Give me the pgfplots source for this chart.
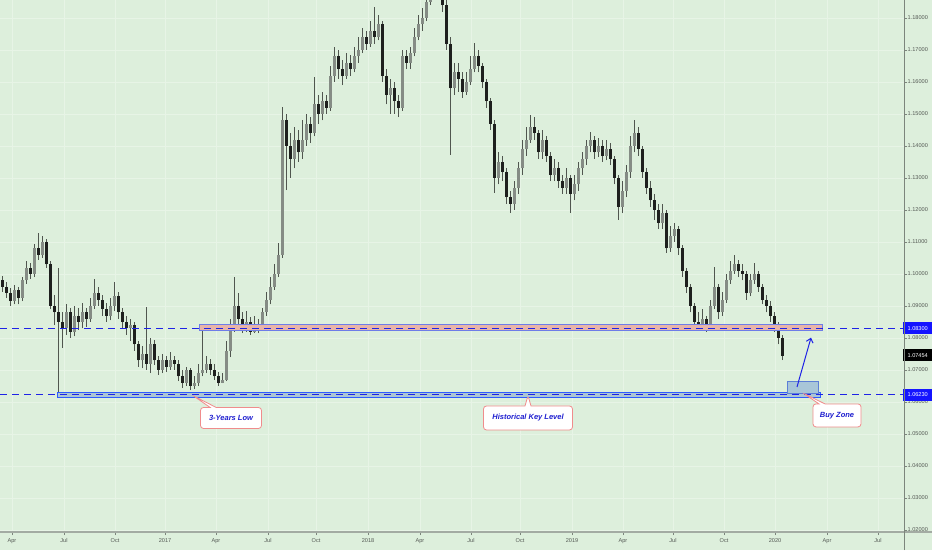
\documentclass[border=0pt]{standalone}
\usepackage{pgfplots}
\pgfplotsset{compat=1.18}
\usepackage{pgfplotstable}
\usepackage{fontspec}
\setmainfont{Liberation Sans}
\usetikzlibrary{shapes.callouts,arrows.meta}
\definecolor{bgc}{HTML}{DDEFDC}
\definecolor{gridc}{HTML}{E7F4E6}
\definecolor{wick}{HTML}{50564F}
\definecolor{upc}{HTML}{858C85}
\definecolor{dnc}{HTML}{1E201E}
\definecolor{lineblue}{HTML}{1E22E6}
\definecolor{lblblue}{HTML}{1414FF}
\definecolor{txtblue}{HTML}{1F1FD0}
\definecolor{callred}{HTML}{F08C8C}
\definecolor{axgray}{HTML}{7C857C}
\definecolor{sepgray}{HTML}{A3ABA3}
\definecolor{ticktxt}{HTML}{555A55}
\definecolor{upbandline}{HTML}{6E7DE8}
\definecolor{upbandfill}{HTML}{E8B4A8}
\definecolor{lobandline}{HTML}{2E5BFF}
\definecolor{lobandfill}{HTML}{ACC6D4}
\definecolor{buyline}{HTML}{5C7FD6}
\definecolor{buyfill}{HTML}{A8C6D8}
\pgfplotstableread{
x o h l c
2 1.0980 1.0995 1.0945 1.0960
6 1.0960 1.0975 1.0925 1.0940
10 1.0940 1.0955 1.0900 1.0915
14 1.0915 1.0965 1.0905 1.0950
18 1.0950 1.0960 1.0905 1.0925
22 1.0925 1.0990 1.0915 1.0980
26 1.0980 1.1040 1.0970 1.1020
30 1.1020 1.1035 1.0985 1.1000
34 1.1000 1.1095 1.0990 1.1080
38 1.1080 1.1128 1.1045 1.1060
42 1.1060 1.1120 1.1050 1.1100
46 1.1100 1.1110 1.1020 1.1030
50 1.1030 1.1040 1.0890 1.0900
54 1.0900 1.0935 1.0840 1.0880
58 1.0880 1.1019 1.0623 1.0850
62 1.0850 1.0880 1.0770 1.0830
66 1.0830 1.0905 1.0810 1.0880
70 1.0880 1.0895 1.0800 1.0820
74 1.0820 1.0900 1.0805 1.0870
78 1.0870 1.0895 1.0825 1.0850
82 1.0850 1.0910 1.0830 1.0880
86 1.0880 1.0895 1.0835 1.0860
90 1.0860 1.0925 1.0850 1.0900
94 1.0900 1.0984 1.0890 1.0940
98 1.0940 1.0960 1.0900 1.0920
102 1.0920 1.0935 1.0870 1.0890
106 1.0890 1.0910 1.0850 1.0870
110 1.0870 1.0925 1.0855 1.0900
114 1.0900 1.0975 1.0885 1.0930
118 1.0930 1.0945 1.0860 1.0880
122 1.0880 1.0895 1.0830 1.0850
126 1.0850 1.0870 1.0810 1.0830
130 1.0830 1.0860 1.0790 1.0840
134 1.0840 1.0850 1.0760 1.0780
138 1.0780 1.0790 1.0710 1.0730
142 1.0730 1.0775 1.0705 1.0750
146 1.0750 1.0897 1.0700 1.0720
150 1.0720 1.0800 1.0690 1.0780
154 1.0780 1.0795 1.0715 1.0730
158 1.0730 1.0745 1.0685 1.0700
162 1.0700 1.0750 1.0690 1.0730
166 1.0730 1.0745 1.0695 1.0710
170 1.0710 1.0755 1.0700 1.0730
174 1.0730 1.0745 1.0700 1.0720
178 1.0720 1.0730 1.0665 1.0680
182 1.0680 1.0700 1.0645 1.0660
186 1.0660 1.0710 1.0650 1.0700
190 1.0700 1.0705 1.0637 1.0650
194 1.0650 1.0680 1.0640 1.0660
198 1.0660 1.0720 1.0650 1.0690
202 1.0690 1.0830 1.0680 1.0700
206 1.0700 1.0745 1.0690 1.0720
210 1.0720 1.0735 1.0685 1.0700
214 1.0700 1.0720 1.0670 1.0680
218 1.0680 1.0695 1.0650 1.0660
222 1.0660 1.0690 1.0659 1.0670
226 1.0670 1.0790 1.0665 1.0760
230 1.0760 1.0860 1.0740 1.0830
234 1.0830 1.0991 1.0820 1.0900
238 1.0900 1.0940 1.0840 1.0860
242 1.0860 1.0880 1.0815 1.0830
246 1.0830 1.0885 1.0820 1.0850
250 1.0850 1.0865 1.0810 1.0820
254 1.0820 1.0870 1.0815 1.0840
258 1.0840 1.0860 1.0815 1.0830
262 1.0830 1.0895 1.0825 1.0880
266 1.0880 1.0945 1.0870 1.0920
270 1.0920 1.0990 1.0905 1.0960
274 1.0960 1.1030 1.0950 1.1000
278 1.1000 1.1097 1.0990 1.1060
282 1.1060 1.1522 1.1050 1.1480
286 1.1480 1.1500 1.1262 1.1400
290 1.1400 1.1440 1.1300 1.1360
294 1.1360 1.1460 1.1330 1.1420
298 1.1420 1.1450 1.1350 1.1380
302 1.1380 1.1480 1.1360 1.1420
306 1.1420 1.1500 1.1400 1.1470
310 1.1470 1.1490 1.1410 1.1440
314 1.1440 1.1616 1.1430 1.1530
318 1.1530 1.1560 1.1470 1.1500
322 1.1500 1.1570 1.1480 1.1540
326 1.1540 1.1560 1.1500 1.1520
330 1.1520 1.1650 1.1510 1.1620
334 1.1620 1.1709 1.1600 1.1680
338 1.1680 1.1700 1.1610 1.1640
342 1.1640 1.1670 1.1590 1.1620
346 1.1620 1.1690 1.1610 1.1660
350 1.1660 1.1685 1.1620 1.1640
354 1.1640 1.1710 1.1630 1.1680
358 1.1680 1.1740 1.1660 1.1700
362 1.1700 1.1770 1.1690 1.1740
366 1.1740 1.1760 1.1700 1.1720
370 1.1720 1.1790 1.1710 1.1760
374 1.1760 1.1834 1.1720 1.1740
378 1.1740 1.1810 1.1730 1.1780
382 1.1780 1.1790 1.1600 1.1620
386 1.1620 1.1640 1.1530 1.1560
390 1.1560 1.1610 1.1500 1.1580
394 1.1580 1.1600 1.1500 1.1540
398 1.1540 1.1560 1.1490 1.1520
402 1.1520 1.1700 1.1510 1.1680
406 1.1680 1.1700 1.1640 1.1660
410 1.1660 1.1710 1.1640 1.1690
414 1.1690 1.1770 1.1680 1.1740
418 1.1740 1.1810 1.1730 1.1780
422 1.1780 1.1830 1.1760 1.1800
426 1.1800 1.1880 1.1790 1.1850
430 1.1850 1.1920 1.1840 1.1880
434 1.1880 1.1970 1.1870 1.1930
438 1.1930 1.2000 1.1900 1.1950
442 1.1950 1.1980 1.1820 1.1840
446 1.1840 1.1860 1.1700 1.1720
450 1.1720 1.1740 1.1372 1.1580
454 1.1580 1.1660 1.1560 1.1630
458 1.1630 1.1660 1.1570 1.1610
462 1.1610 1.1630 1.1550 1.1570
466 1.1570 1.1630 1.1560 1.1600
470 1.1600 1.1680 1.1590 1.1640
474 1.1640 1.1722 1.1630 1.1680
478 1.1680 1.1700 1.1630 1.1650
482 1.1650 1.1660 1.1580 1.1600
486 1.1600 1.1610 1.1520 1.1540
490 1.1540 1.1550 1.1450 1.1470
494 1.1470 1.1480 1.1253 1.1300
498 1.1300 1.1380 1.1280 1.1350
502 1.1350 1.1370 1.1290 1.1320
506 1.1320 1.1330 1.1220 1.1240
510 1.1240 1.1260 1.1191 1.1220
514 1.1220 1.1290 1.1200 1.1270
518 1.1270 1.1350 1.1250 1.1330
522 1.1330 1.1420 1.1310 1.1390
526 1.1390 1.1460 1.1370 1.1420
530 1.1420 1.1497 1.1410 1.1460
534 1.1460 1.1490 1.1420 1.1440
538 1.1440 1.1450 1.1360 1.1380
542 1.1380 1.1450 1.1360 1.1420
546 1.1420 1.1430 1.1350 1.1370
550 1.1370 1.1380 1.1290 1.1310
554 1.1310 1.1360 1.1290 1.1330
558 1.1330 1.1350 1.1270 1.1290
562 1.1290 1.1310 1.1250 1.1270
566 1.1270 1.1330 1.1250 1.1300
570 1.1300 1.1310 1.1191 1.1250
574 1.1250 1.1310 1.1230 1.1280
578 1.1280 1.1350 1.1260 1.1330
582 1.1330 1.1380 1.1310 1.1360
586 1.1360 1.1420 1.1340 1.1400
590 1.1400 1.1444 1.1380 1.1420
594 1.1420 1.1430 1.1360 1.1380
598 1.1380 1.1425 1.1365 1.1400
602 1.1400 1.1420 1.1350 1.1370
606 1.1370 1.1420 1.1355 1.1390
610 1.1390 1.1410 1.1340 1.1360
614 1.1360 1.1370 1.1280 1.1300
618 1.1300 1.1310 1.1169 1.1210
622 1.1210 1.1290 1.1190 1.1260
626 1.1260 1.1340 1.1240 1.1320
630 1.1320 1.1430 1.1300 1.1400
634 1.1400 1.1481 1.1380 1.1440
638 1.1440 1.1460 1.1370 1.1390
642 1.1390 1.1400 1.1300 1.1320
646 1.1320 1.1330 1.1250 1.1270
650 1.1270 1.1290 1.1210 1.1230
654 1.1230 1.1250 1.1170 1.1200
658 1.1200 1.1220 1.1140 1.1160
662 1.1160 1.1220 1.1140 1.1190
666 1.1190 1.1200 1.1066 1.1080
670 1.1080 1.1150 1.1070 1.1120
674 1.1120 1.1160 1.1100 1.1140
678 1.1140 1.1150 1.1060 1.1080
682 1.1080 1.1090 1.0990 1.1010
686 1.1010 1.1020 1.0940 1.0960
690 1.0960 1.0970 1.0880 1.0900
694 1.0900 1.0910 1.0830 1.0850
698 1.0850 1.0880 1.0825 1.0840
702 1.0840 1.0890 1.0830 1.0860
706 1.0860 1.0870 1.0819 1.0830
710 1.0830 1.0920 1.0825 1.0900
714 1.0900 1.1022 1.0890 1.0960
718 1.0960 1.0970 1.0860 1.0880
722 1.0880 1.0945 1.0870 1.0920
726 1.0920 1.1000 1.0910 1.0980
730 1.0980 1.1040 1.0970 1.1010
734 1.1010 1.1059 1.1000 1.1030
738 1.1030 1.1045 1.0990 1.1010
742 1.1010 1.1030 1.0980 1.1000
746 1.1000 1.1010 1.0920 1.0940
750 1.0940 1.1000 1.0930 1.0980
754 1.0980 1.1034 1.0970 1.1000
758 1.1000 1.1010 1.0945 1.0960
762 1.0960 1.0970 1.0905 1.0920
766 1.0920 1.0935 1.0880 1.0900
770 1.0900 1.0915 1.0850 1.0870
774 1.0870 1.0880 1.0820 1.0840
778 1.0840 1.0850 1.0780 1.0800
782 1.0800 1.0810 1.0731 1.0745
}\candles
\begin{document}
\begin{tikzpicture}
\fill[bgc] (0,0) rectangle (932pt,550pt);
\begin{axis}[
  at={(0pt,18pt)}, anchor=south west,
  scale only axis, width=904pt, height=532pt,
  xmin=0, xmax=904, ymin=1.019375, ymax=1.1856,
  clip mode=individual,
  axis x line*=bottom, axis y line*=right,
  axis line style={draw=none},
  xtick={12,64,115,165,216,268,316,368,420,471,520,572,623,673,724,775,827,878},
  xticklabels={Apr,Jul,Oct,2017,Apr,Jul,Oct,2018,Apr,Jul,Oct,2019,Apr,Jul,Oct,2020,Apr,Jul},
  ytick={1.02,1.03,1.04,1.05,1.06,1.07,1.08,1.09,1.10,1.11,1.12,1.13,1.14,1.15,1.16,1.17,1.18},
  yticklabel pos=right,
  tick align=outside, major tick length=3pt,
  tick style={axgray, line width=0.5pt},
  grid=major, grid style={gridc, line width=0.6pt},
  yticklabel style={font=\fontsize{5.6}{6}\selectfont, text=ticktxt, inner sep=0.5pt, anchor=west},
  xticklabel style={font=\fontsize{5.6}{6}\selectfont, text=ticktxt, inner sep=1pt, yshift=-2pt},
  /pgf/number format/.cd, fixed, fixed zerofill, precision=5, assume math mode=true,
]
% wicks
\addplot[draw=none, mark=none, forget plot,
  error bars/.cd, y dir=plus, y explicit, error mark=none,
  error bar style={draw=wick, solid, line width=1pt}]
  table[x=x, y=l, y error expr=\thisrow{h}-\thisrow{l}] {\candles};
% up bodies
\addplot[draw=none, mark=none, forget plot,
  restrict expr to domain={\thisrow{c}-\thisrow{o}}{0:1},
  error bars/.cd, y dir=plus, y explicit, error mark=none,
  error bar style={draw=upc, solid, line width=3pt}]
  table[x=x, y=o, y error expr=\thisrow{c}-\thisrow{o}] {\candles};
% down bodies
\addplot[draw=none, mark=none, forget plot,
  restrict expr to domain={\thisrow{o}-\thisrow{c}}{0.00001:1},
  error bars/.cd, y dir=plus, y explicit, error mark=none,
  error bar style={draw=dnc, solid, line width=3pt}]
  table[x=x, y=c, y error expr=\thisrow{o}-\thisrow{c}] {\candles};

% key level bands
\draw[draw=upbandline, fill=upbandfill, line width=0.8pt]
  (axis cs:199,1.0825) rectangle (axis cs:822,1.0841);
\draw[draw=lobandline, fill=lobandfill, line width=0.8pt]
  (axis cs:57,1.0615) rectangle (axis cs:820,1.0631);
% buy zone
\draw[draw=buyline, fill=buyfill, line width=0.7pt]
  (axis cs:787,1.0628) rectangle (axis cs:818,1.0666);
% dashed lines
\draw[lineblue, line width=1.4pt, dash pattern=on 7pt off 5pt] (axis cs:0,1.0830) -- (axis cs:903,1.0830);
\draw[lineblue, line width=1.4pt, dash pattern=on 7pt off 5pt] (axis cs:0,1.0623) -- (axis cs:903,1.0623);
% arrow
\draw[lineblue, line width=1pt, -{Straight Barb[length=4pt,width=7pt]}] (axis cs:797,1.0647) -- (axis cs:811,1.0801);
% callouts
\node[rectangle callout, rounded corners=3pt, fill=white, draw=callred, line width=0.8pt,
  minimum width=61pt, minimum height=21pt, inner sep=1pt, text=txtblue,
  font=\fontsize{7.5}{8}\selectfont\bfseries\itshape,
  callout absolute pointer={(axis cs:193,1.0620)}, callout pointer width=6pt]
  at (axis cs:231,1.0550) {3-Years Low};
\node[rectangle callout, rounded corners=3pt, fill=white, draw=callred, line width=0.8pt,
  minimum width=89pt, minimum height=24pt, inner sep=1pt, text=txtblue,
  font=\fontsize{7.5}{8}\selectfont\bfseries\itshape,
  callout absolute pointer={(axis cs:528,1.0620)}, callout pointer width=6pt]
  at (axis cs:528,1.0550) {Historical Key Level};
\node[rectangle callout, rounded corners=3pt, fill=white, draw=callred, line width=0.8pt,
  minimum width=48pt, minimum height=23pt, inner sep=1pt, text=txtblue,
  font=\fontsize{7.5}{8}\selectfont\bfseries\itshape,
  callout absolute pointer={(axis cs:803,1.0628)}, callout pointer width=6pt]
  at (axis cs:837,1.0558) {Buy Zone};
% price labels
\node[fill=lblblue, text=white, anchor=west, minimum width=29pt, minimum height=12pt, inner sep=0pt,
  font=\fontsize{5.6}{6}\selectfont] at (axis cs:903,1.0830) {1.08300};
\node[fill=black, text=white, anchor=west, minimum width=29pt, minimum height=12pt, inner sep=0pt,
  font=\fontsize{5.6}{6}\selectfont] at (axis cs:903,1.07454) {1.07454};
\node[fill=lblblue, text=white, anchor=west, minimum width=29pt, minimum height=12pt, inner sep=0pt,
  font=\fontsize{5.6}{6}\selectfont] at (axis cs:903,1.0623) {1.06230};
\end{axis}
\draw[sepgray, line width=2pt] (0,18pt) -- (932pt,18pt);
\draw[axgray, line width=0.8pt] (904pt,0) -- (904pt,550pt);
\pgfresetboundingbox
\useasboundingbox (0,0) rectangle (932pt,550pt);
\end{tikzpicture}
\end{document}
